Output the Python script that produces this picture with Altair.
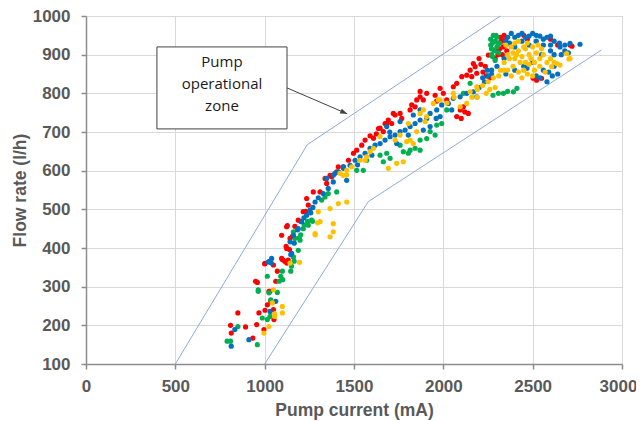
import altair as alt
import pandas as pd

red_pts = [
(809,200),(813,180),(850,232),(893,196),(934,167),(955,202),(949,314),(959,311),(968,232),(996,189),(1002,239),(1015,253),(1000,359),(1024,288),(1030,288),(1034,262),(1052,215),(1062,314),(1071,340),(1049,241),(1099,370),(1112,366),(1127,458),(1169,456),(1124,361),(1139,396),(1120,404),(1155,430),(1202,469),(1230,495),
(1412,610),(1366,588),(1338,580),(1347,567),(1310,545),(1272,545),(1235,528),(1244,511),(1216,494),(1188,472),(1123,455),(1095,433),(1142,425),(1123,399),(1095,373),(1132,369),(1002,360),(1049,356),
(2168,877),(2178,869),(2187,852),(2131,847),(2103,843),(2159,843),(2075,826),(2056,817),(1982,813),(2000,800),(1954,795),(1907,800),(1870,791),(1851,783),(1888,783),(1823,770),(1814,757),(1758,748),(1730,744),(1767,735),(1692,731),(1674,722),(1711,722),(1637,709),(1664,701),(1562,679),(1543,666),(1515,653),(1497,645),(1469,627),(1441,610),(1403,597),(1375,584),
(2075,740),(2100,735),(2112,765),(2140,748),(2120,752),(2095,757),(1590,690),(1625,695),(1609,684),(1646,710),(1683,722),(1720,748),(1842,765),(1870,805),(1963,780),(2019,783),
(2222,855),(2240,845),(2261,840),(2200,890),(2150,860),(2235,870),(2210,875),
(2300,915),(2310,930),(2320,945),(2335,920),(2345,938),(2355,910),(2330,900),(2305,900),(2290,890),(2252,899),(2340,950),(2325,935),(2350,925),(2315,915),
(2503,839),(2522,834),(2550,839),(2709,925),(2720,922),(2600,940),(2450,950),(2470,940),(2640,925),
]

green_pts = [
(790,159),(809,159),(850,197),(959,150),(964,292),(964,288),(1015,327),(987,219),(1015,215),(1030,223),(1034,266),(1024,284),(1071,285),(1081,314),(1090,327),(1101,318),(1099,340),(1146,340),(1150,353),(1165,366),(1165,413),(1193,426),(1202,434),(1221,460),(1240,469),(1268,469),
(1319,524),(1338,532),(1356,541),(1403,545),(1263,472),(1244,459),(1216,450),(1161,442),(1170,425),(1198,420),(1188,394),(1161,377),
(2150,826),(2112,800),(2019,757),(1991,722),(1963,718),(1926,701),(1954,692),(1907,683),(1870,679),(1814,653),(1842,658),(1870,653),(1776,649),(1804,645),(1702,632),(1683,645),(1646,640),(1664,623),(1758,666),(1571,627),(1515,601),(1552,601),
(2308,800),(2336,800),(2392,804),(2412,813),(2278,795),(2360,805),
(2265,940),(2275,930),(2290,935),(2300,945),(2270,915),(2285,910),(2300,920),(2310,905),(2275,895),(2290,885),(2315,930),(2280,950),(2265,925),(2270,900),(2295,950),(2305,930),
]

blue_pts = [
(833,189),(813,146),(912,163),(1030,366),(1037,361),(1030,236),(1062,262),(1146,383),(1165,413),(1184,447),(1258,491),
(1440,610),(1394,593),(1384,571),(1356,554),(1328,541),(1282,519),(1254,498),(1235,485),(1207,468),(1188,450),(1161,433),(1142,416),(1151,386),(1021,364),(1039,373),(1459,575),(1300,530),(1270,505),(1220,478),
(2131,800),(2094,791),(2056,787),(2028,774),(1991,770),(1963,757),(1926,748),(1907,735),(1870,731),(1842,722),(1814,714),(1786,705),(1758,701),(1730,692),(1702,688),(1674,679),(1646,670),(1618,666),(1590,658),(1562,645),(1534,636),(1506,627),(1478,614),(1441,606),(1413,597),(1385,589),(1347,580),
(1870,757),(1832,744),(1758,727),(1683,714),(1888,705),(1926,714),(1804,692),(1739,670),(1982,740),(2047,757),(2168,804),(2187,791),(1600,640),(1520,615),(1700,700),(1960,735),
(2200,815),(2230,830),(2250,845),(2270,860),(2220,840),(2245,860),
(2380,955),(2420,950),(2460,945),(2500,955),(2540,948),(2580,945),(2620,935),(2650,930),(2680,925),(2709,929),(2765,927),(2400,945),(2440,955),(2480,948),(2520,950),(2560,940),(2600,948),(2360,945),(2350,935),
(2600,910),(2550,900),(2500,880),(2450,870),(2400,860),(2350,850),(2560,860),(2620,870),(2640,850),(2580,830),(2520,845),(2660,900),(2700,905),(2370,930),(2400,920),(2440,935),(2480,925),(2520,935),(2560,925),(2600,925),(2340,890),(2300,870),(2270,850),(2653,920),(2541,840),(2468,865),(2620,900),(2680,910),(2590,855),(2610,845),
]

yellow_pts = [
(996,180),(1024,197),(1049,292),(1043,258),(1056,230),(1056,223),(1099,249),(1099,232),(1142,361),(1195,363),(1283,434),(1296,465),
(1412,515),(1459,519),(1366,502),(1300,494),(1310,468),(1384,463),(1384,442),(1366,429),(1282,437),(1459,601),(1440,588),
(2150,804),(2187,817),(2056,800),(1972,783),(1944,774),(1888,757),(1870,748),(1898,727),(1804,722),(1758,692),(1814,679),(1832,670),(1730,679),(1590,649),(1534,627),(1562,627),(1487,610),(1692,606),(1739,619),(1776,623),(1422,593),(1459,589),
(1907,740),(1851,701),(1795,675),(1609,658),(1571,636),(1646,688),(1982,783),(2094,765),(2131,774),(2020,775),(2060,790),(2190,790),
(2160,790),(2190,810),(2220,820),(2250,830),(2280,840),(2310,845),(2240,800),(2290,815),(2260,810),(2320,860),
(2340,880),(2360,900),(2380,920),(2400,930),(2420,910),(2440,895),(2460,915),(2480,900),(2500,920),(2520,905),(2540,890),(2560,900),(2580,880),(2360,860),(2390,870),(2420,855),(2450,860),(2480,875),(2510,860),(2540,870),(2570,855),(2380,845),(2440,840),(2500,845),(2350,925),(2420,935),(2470,930),(2530,925),(2400,890),(2460,880),(2600,890),(2620,880),
(2370,890),(2410,900),(2430,880),(2490,890),(2550,915),(2510,880),(2390,905),(2450,920),(2340,860),(2470,850),
(2653,873),(2709,890),(2690,903),(2606,869),(2634,877),(2703,889),
]

series_names = ["red", "green", "blue", "yellow"]
series_colors = ["#FF0000", "#00B050", "#0070C0", "#FFC000"]

upper_x = [500, 1238, 2319]
upper_y = [100, 667, 1000]
lower_x = [1000, 1580, 2885]
lower_y = [100, 520, 912]

box_x = [397, 1125]
box_y = [708, 920]
box_lines = ["Pump", "operational", "zone"]
box_line_y = [881, 824, 767]
box_text_x = 761
arrow_from = (1125, 814)
arrow_to = (1462, 747)

x_ticks = [0, 500, 1000, 1500, 2000, 2500, 3000]
y_ticks = [100, 200, 300, 400, 500, 600, 700, 800, 900, 1000]

rows = []
for name, pts in zip(series_names, [red_pts, green_pts, blue_pts, yellow_pts]):
    for x, y in pts:
        rows.append({"x": x, "y": y, "s": name})
pts_df = pd.DataFrame(rows)

bound_rows = []
for i in range(3):
    bound_rows.append({"x": upper_x[i], "y": upper_y[i], "line": "upper", "o": i})
    bound_rows.append({"x": lower_x[i], "y": lower_y[i], "line": "lower", "o": i})
bound_df = pd.DataFrame(bound_rows)

xs = alt.Scale(domain=[0, 3000], nice=False, zero=False)
ys = alt.Scale(domain=[100, 1000], nice=False, zero=False)

xaxis = alt.Axis(values=x_ticks, format="d", labelOverlap=False, labelFlush=False,
                 labelOffset={"condition": {"test": "datum.value === 3000", "value": -4}, "value": 0},
                 title="Pump current (mA)", grid=True,
                 titleX=268, titleY=51, titleBaseline="alphabetic", titleAlign="center")
yaxis = alt.Axis(values=y_ticks, format="d", labelOverlap=False, labelFlush=False,
                 title="Flow rate (l/h)", grid=True,
                 titleX=-61, titleY=174, titleBaseline="alphabetic", titleAlign="center", titleAngle=270)

bounds = alt.Chart(bound_df).mark_line(color="#8FAADC", strokeWidth=1).encode(
    x=alt.X("x:Q", scale=xs, axis=xaxis),
    y=alt.Y("y:Q", scale=ys, axis=yaxis),
    detail="line:N",
    order="o:Q",
)

points = alt.Chart(pts_df).mark_circle(size=27, opacity=1).encode(
    x=alt.X("x:Q", scale=xs, axis=xaxis),
    y=alt.Y("y:Q", scale=ys, axis=yaxis),
    color=alt.Color("s:N", scale=alt.Scale(domain=series_names, range=series_colors), legend=None),
)

arrow_df = pd.DataFrame([{"x": arrow_from[0], "y": arrow_from[1], "x2": arrow_to[0], "y2": arrow_to[1]}])
arrow = alt.Chart(arrow_df).mark_rule(color="#404040", strokeWidth=1).encode(
    x=alt.X("x:Q", scale=xs, axis=xaxis), y=alt.Y("y:Q", scale=ys, axis=yaxis), x2="x2:Q", y2="y2:Q")

head_df = pd.DataFrame([{"x": arrow_to[0], "y": arrow_to[1]}])
head = alt.Chart(head_df).mark_point(shape="M0,0L-2,-0.75L-2,0.75Z", size=49, filled=True,
                                     color="#404040", opacity=1, angle=23).encode(
    x=alt.X("x:Q", scale=xs, axis=xaxis), y=alt.Y("y:Q", scale=ys, axis=yaxis))

box_df = pd.DataFrame([{"x": box_x[0], "x2": box_x[1], "y": box_y[0], "y2": box_y[1]}])
box = alt.Chart(box_df).mark_rect(fill="white", stroke="#404040", strokeWidth=1).encode(
    x=alt.X("x:Q", scale=xs, axis=xaxis), x2="x2:Q", y=alt.Y("y:Q", scale=ys, axis=yaxis), y2="y2:Q")

text_df = pd.DataFrame({"t": box_lines, "y": box_line_y, "x": [box_text_x] * 3})
text = alt.Chart(text_df).mark_text(font="Open Sans", fontSize=15, color="#1a1a1a",
                                    align="center", baseline="middle").encode(
    x=alt.X("x:Q", scale=xs, axis=xaxis), y=alt.Y("y:Q", scale=ys, axis=yaxis), text="t:N")

chart = alt.layer(bounds, points, arrow, head, box, text).properties(
    width=536, height=348,
    autosize=alt.AutoSizeParams(type="none"),
    padding={"left": 78, "top": 8, "right": 14, "bottom": 57},
).configure_view(strokeWidth=0).configure_axis(
    labelFont="Liberation Sans", labelFontSize=17, labelFontWeight="bold", labelColor="#595959",
    titleFont="Liberation Sans", titleFontSize=17.5, titleFontWeight="bold", titleColor="#595959",
    gridColor="#D9D9D9", gridWidth=1, domainColor="#8C8C8C", domainWidth=1.5,
    tickColor="#8C8C8C", tickSize=5, tickWidth=1.5, labelOverlap=False,
).configure_axisX(labelPadding=9, domain=True).configure_axisY(labelPadding=11)

chart.save("out.html", embed_options={"renderer": "svg", "actions": False})
